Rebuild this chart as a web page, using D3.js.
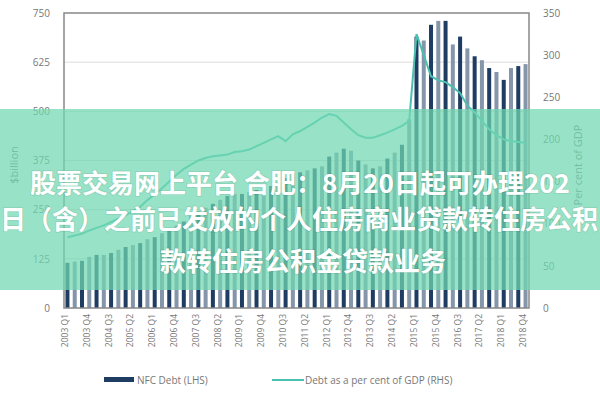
<!DOCTYPE html>
<html>
<head>
<meta charset="utf-8">
<script src="https://d3js.org/d3.v7.min.js"></script>
<style>
  body { margin: 0; background: #fff; }
  text { font-family: "Open Sans", "Noto Sans", sans-serif; }
</style>
</head>
<body>
<svg id="chart" width="600" height="400"></svg>
<script>
  // quarters 2003 Q1 .. 2018 Q4
  var quarters = [];
  d3.range(2003, 2019).forEach(function(y) {
    [1, 2, 3, 4].forEach(function(q) { quarters.push(y + " Q" + q); });
  });
  // NFC debt, $ billion (LHS)
  var debt = [115,118,120,130,135,135,140,148,
              155,160,165,175,180,190,200,210,
              220,235,245,255,265,275,285,290,
              290,295,300,305,310,320,330,340,
              345,350,355,360,385,395,405,400,
              375,365,355,360,380,395,415,480,
              690,680,720,730,730,670,690,660,
              640,630,610,600,580,610,615,620];
  // debt as per cent of GDP (RHS)
  var pctGdp = [84,86,88,92,95,98,102,106,
                110,115,120,128,135,142,150,158,
                165,170,175,178,180,181,182,185,
                186,188,192,196,200,204,198,206,
                210,215,220,226,230,228,220,212,
                205,202,202,205,208,212,216,222,
                325,300,275,270,268,262,255,240,
                232,222,212,205,200,198,197,196];
  var leftTicks = [0,125,250,375,500,625,750];
  var rightTicks = [0,50,100,150,200,250,300,350];
  var bannerLines = ["股票交易网上平台 合肥：8月20日起可办理202",
                     "日（含）之前已发放的个人住房商业贷款转住房公积",
                     "款转住房公积金贷款业务"];

  var svg = d3.select("#chart");
  var m = { left: 64, right: 71, top: 13, bottom: 92 };
  var W = 600, H = 400;
  var x = d3.scaleBand().domain(quarters).range([m.left, W - m.right]).paddingInner(0.45).paddingOuter(0.2);
  var yL = d3.scaleLinear().domain([0, 750]).range([H - m.bottom, m.top]);
  var yR = d3.scaleLinear().domain([0, 350]).range([H - m.bottom, m.top]);
  var grey = "#777";

  // gridlines
  svg.append("g").selectAll("line").data(leftTicks.slice(1, -1)).enter().append("line")
    .attr("x1", m.left).attr("x2", W - m.right)
    .attr("y1", function(d) { return yL(d); }).attr("y2", function(d) { return yL(d); })
    .attr("stroke", "#ddd");

  // bars
  svg.append("g").selectAll("rect").data(debt).enter().append("rect")
    .attr("x", function(d, i) { return x(quarters[i]); })
    .attr("width", x.bandwidth())
    .attr("y", function(d) { return yL(d); })
    .attr("height", function(d) { return yL(0) - yL(d); })
    .attr("fill", function(d, i) { return i % 2 ? "#8595aa" : "#1f3d63"; });

  // line
  svg.append("path").datum(pctGdp)
    .attr("fill", "none").attr("stroke", "#4cc0b0").attr("stroke-width", 2)
    .attr("d", d3.line()
      .x(function(d, i) { return x(quarters[i]) + x.bandwidth() / 2; })
      .y(function(d) { return yR(d); }));

  // frame
  svg.append("rect").attr("x", m.left).attr("y", m.top)
    .attr("width", W - m.left - m.right).attr("height", H - m.top - m.bottom)
    .attr("fill", "none").attr("stroke", "#888").attr("stroke-width", 1.5);

  // axes
  var axL = svg.append("g").attr("transform", "translate(" + m.left + ",0)")
    .call(d3.axisLeft(yL).tickValues(leftTicks).tickSize(0).tickPadding(14));
  var axR = svg.append("g").attr("transform", "translate(" + (W - m.right) + ",0)")
    .call(d3.axisRight(yR).tickValues(rightTicks).tickSize(0).tickPadding(14));
  var axB = svg.append("g").attr("transform", "translate(0," + (H - m.bottom) + ")")
    .call(d3.axisBottom(x).tickValues(quarters.filter(function(d, i) { return i % 3 === 0; })).tickSize(0));
  axB.selectAll("text").attr("transform", "rotate(-90)").attr("text-anchor", "end")
    .attr("dx", "-6px").attr("dy", "-0.3em");
  [axL, axR, axB].forEach(function(a) {
    a.select(".domain").remove();
    a.selectAll("text").attr("fill", grey).style("font-size", "10px");
  });
  axB.selectAll("text").style("font-size", "8.5px");

  svg.append("text").attr("transform", "translate(18,165) rotate(-90)")
    .attr("text-anchor", "middle").attr("fill", grey).style("font-size", "11px").text("$billion");
  svg.append("text").attr("transform", "translate(582,165) rotate(-90)")
    .attr("text-anchor", "middle").attr("fill", grey).style("font-size", "11px").text("Per cent of GDP");

  // legend
  var lg = svg.append("g").attr("transform", "translate(0,380)");
  lg.append("rect").attr("x", 104).attr("y", -3).attr("width", 30).attr("height", 5).attr("fill", "#1f3d63");
  lg.append("text").attr("x", 137).attr("y", 4).attr("fill", grey).style("font-size", "10px").text("NFC Debt (LHS)");
  lg.append("line").attr("x1", 272).attr("x2", 304).attr("y1", 0).attr("y2", 0).attr("stroke", "#4cc0b0").attr("stroke-width", 2);
  lg.append("text").attr("x", 305).attr("y", 4).attr("fill", grey).style("font-size", "10px").text("Debt as a per cent of GDP (RHS)");

  // overlay banner
  svg.append("rect").attr("x", 0).attr("y", 109).attr("width", W).attr("height", 181)
    .attr("fill", "rgb(112,216,178)").attr("opacity", 0.72);
  var pos = [[30, 193, "start"], [0, 229, "start"], [303, 271, "middle"]];
  bannerLines.forEach(function(t, i) {
    svg.append("text").attr("x", pos[i][0]).attr("y", pos[i][1]).attr("text-anchor", pos[i][2])
      .attr("fill", "#fff").style("font-family", "'Noto Sans CJK SC', sans-serif")
      .style("font-weight", "bold").style("font-size", "26px")
      .style("paint-order", "stroke").attr("stroke", "rgba(0,0,0,0.08)").attr("stroke-width", 2)
      .text(t);
  });
</script>
</body>
</html>
